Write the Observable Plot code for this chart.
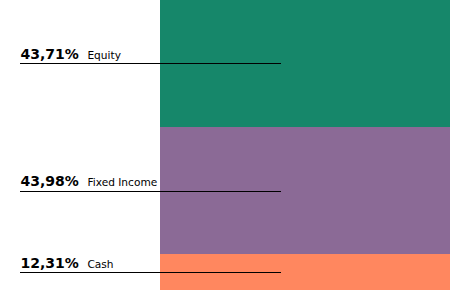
<!DOCTYPE html>
<html>
<head>
<meta charset="utf-8">
<script src="https://cdn.jsdelivr.net/npm/d3@7"></script>
<script src="https://cdn.jsdelivr.net/npm/@observablehq/plot@0.6"></script>
<style>
  html, body { margin: 0; padding: 0; background: #fff; }
  svg { display: block; }
</style>
</head>
<body>
<div id="chart"></div>
<script>
const categories = ["Equity", "Fixed Income", "Cash"];
const values = [43.71, 43.98, 12.31];
const valueLabels = ["43,71%", "43,98%", "12,31%"];
const colors = ["#16876a", "#8b6a96", "#ff875f"];

let acc = 0;
const data = categories.map((c, i) => {
  const y1 = acc;
  acc += values[i];
  return { category: c, y1, y2: acc, mid: (y1 + acc) / 2, label: valueLabels[i] };
});

const chart = Plot.plot({
  width: 465,
  height: 290,
  margin: 0,
  style: { background: "#fff" },
  x: { domain: [0, 1], range: [160, 450], axis: null },
  y: { domain: [100, 0], range: [290, 0], axis: null },
  color: { domain: categories, range: colors },
  marks: [
    Plot.rectY(data, { x1: 0, x2: 1, y1: "y1", y2: "y2", fill: "category", shapeRendering: "crispEdges" }),
    Plot.ruleY(data, { y: "mid", x1: -0.483, x2: 0.417, stroke: "#000", strokeWidth: 1, shapeRendering: "crispEdges" }),
    Plot.text(data, {
      x: -0.483, y: "mid", text: "label", textAnchor: "start", lineAnchor: "bottom",
      dy: -5, fontSize: 14, fontWeight: "bold", fill: "#000",
      fontFamily: "DejaVu Sans"
    }),
    Plot.text(data, {
      x: -0.483, y: "mid", text: "category", textAnchor: "start", lineAnchor: "bottom",
      dx: 67, dy: -5, fontSize: 10.6, fill: "#000",
      fontFamily: "DejaVu Sans"
    })
  ]
});
document.getElementById("chart").appendChild(chart);
</script>
</body>
</html>
